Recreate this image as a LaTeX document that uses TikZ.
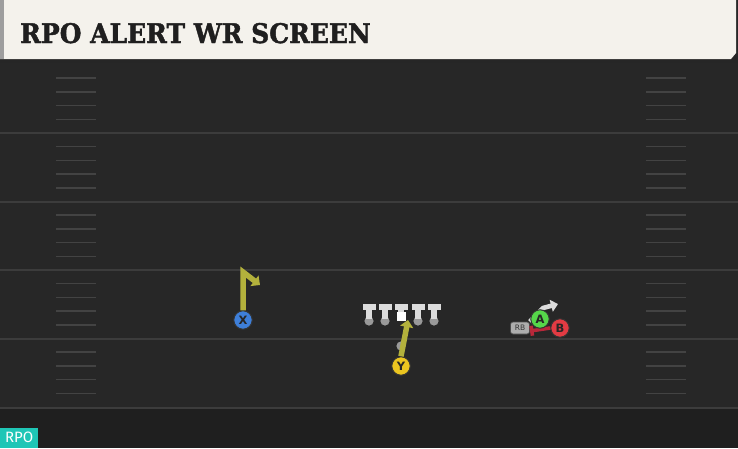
\documentclass[tikz,border=0pt]{standalone}
\usepackage{fontspec}
\setmainfont{DejaVu Sans}
\newfontfamily\titlefont{DejaVu Serif}[BoldFeatures={FakeBold=1.6}]
\newfontfamily\labfont{Fira Sans}
\usetikzlibrary{arrows.meta}
\definecolor{field}{HTML}{272727}
\definecolor{bottomf}{HTML}{1F1F1F}
\definecolor{yardline}{HTML}{3C3C3C}
\definecolor{hashc}{HTML}{434343}
\definecolor{headbg}{HTML}{F4F2EC}
\definecolor{routec}{HTML}{B3B13C}
\definecolor{xblue}{HTML}{3E7FD9}
\definecolor{yyel}{HTML}{EBC520}
\definecolor{agreen}{HTML}{56D64A}
\definecolor{bred}{HTML}{E23B43}
\definecolor{blockred}{HTML}{B8283A}
\definecolor{rpoteal}{HTML}{1FC6B6}
\definecolor{olgray}{HTML}{DCDCDC}
\tikzset{
  player/.style={circle,draw=black!80,line width=1pt,minimum size=18.5pt,inner sep=0pt,font=\bfseries\fontsize{11.5}{11.5}\selectfont,text=black!85},
  route/.style={draw=routec,line width=5.5pt},
  rtip/.style={-{Triangle[length=7pt,width=13pt]}},
  block/.style={draw=blockred,line width=3.6pt},
  swing/.style={draw=olgray,line width=4.6pt},
  hashm/.style={draw=hashc,line width=1.5pt},
  ydl/.style={draw=yardline,line width=2pt},
}
\begin{document}
\begin{tikzpicture}[x=1pt,y=-1pt]
\useasboundingbox (0,0) rectangle (738,448);
% field
\fill[field] (0,0) rectangle (738,448);
\fill[bottomf] (0,408) rectangle (738,448);
% yard lines
\foreach \yy in {133,201.5,270,338.5,407.5}{\draw[ydl] (0,\yy) -- (738,\yy);}
% hash marks
\foreach \i in {0,...,4}{
  \foreach \k in {1,...,4}{
    \pgfmathsetmacro{\hy}{64.5+68.5*\i+13.7*\k}
    \draw[hashm] (56,\hy) -- (96,\hy);
    \draw[hashm] (646,\hy) -- (686,\hy);
  }
}
% header
\fill[black!85] (0,56) rectangle (738,63);
\fill[headbg] (0,0) -- (736,0) -- (736,53) -- (731,59) -- (0,59) -- cycle;
\fill[black!38] (0,0) rectangle (4,59);
\node[anchor=base west,inner sep=0pt,font=\titlefont\bfseries\fontsize{27}{27}\selectfont,text=black!88] (title) at (20,43) {\scalebox{0.925}[1]{RPO ALERT WR SCREEN}};
% RPO tag
\node[fill=rpoteal,text=white,font=\labfont\fontsize{15}{15}\selectfont,anchor=south west,minimum width=38pt,minimum height=20pt,inner sep=0pt] (rpo) at (0,448) {RPO};
% offensive line
\foreach \lx/\nm in {369/lt,385/lg,418/rg,434/rt}{
  \fill[black!40] (\lx,321) circle (4.6);
  \fill[olgray] (\lx-6.5,304) rectangle (\lx+6.5,310);
  \fill[olgray] (\lx-3,309) rectangle (\lx+3,319);
  \coordinate (\nm) at (\lx,314);
}
\fill[olgray] (401-6.5,304) rectangle (401+6.5,310);
\fill[olgray] (401-3,309) rectangle (401+3,313);
\node[fill=white,minimum size=9pt,inner sep=0pt] (c) at (401,316.5) {};
% QB
\fill[black!40] (401,346) circle (4.6);
\coordinate (qb) at (401,346);
% players
\node[player,fill=xblue] (X) at (243,320) {X};
\node[player,fill=yyel] (Y) at (401,366) {Y};
\node[fill=black!32,draw=black!70,line width=0.7pt,rounded corners=2.5pt,minimum width=19pt,minimum height=12pt,inner sep=0pt,font=\fontsize{7.5}{7.5}\selectfont,text=black!80] (RB) at (520,328) {RB};
% routes
\coordinate (xtop) at (243,272);
\coordinate (xend) at (260,285);
\draw[route,rtip,line join=miter] (X.north) -- (xtop) -- (xend);
\coordinate (yend) at (408,320);
\draw[route,rtip] (Y.north) -- (yend);
\coordinate (rbmid) at (543,308);
\coordinate (rbend) at (558,304);
\draw[swing,-{Triangle[length=7pt,width=12pt]}] (RB.north east) -- (rbmid) -- (rbend);
\node[player,fill=bred] (B) at (560,328) {B};
\coordinate (blk) at (530,331);
\draw[block,-{Bar[width=10pt]}] (B.west) -- (blk);
\node[player,fill=agreen] (A) at (540,319) {A};
\end{tikzpicture}
\end{document}
